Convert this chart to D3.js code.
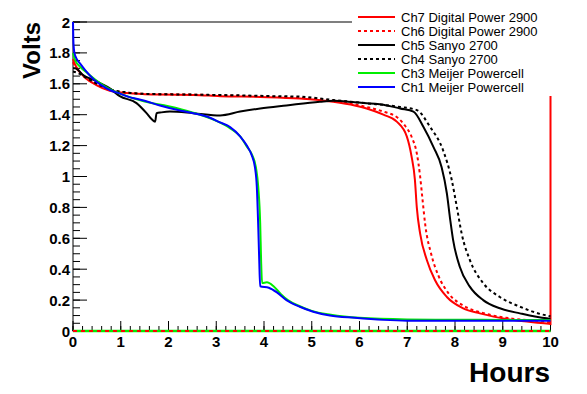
<!DOCTYPE html>
<html>
<head>
<meta charset="utf-8">
<script src="https://cdn.jsdelivr.net/npm/d3@7"></script>
<style>
  html, body { margin: 0; padding: 0; background: #fff; }
  svg { display: block; font-family: "Liberation Sans", Arial, Helvetica, sans-serif; }
</style>
</head>
<body>
<svg id="chart" width="587" height="394"></svg>
<script>
// ---------- data (hours, volts) ----------
const ch7 = [[0,1.76],[0.05,1.72],[0.22,1.65],[0.5,1.59],[0.77,1.555],[1.12,1.54],[1.5,1.533],[1.82,1.53],[2.52,1.528],[3.08,1.52],[3.92,1.515],[4.75,1.505],[5.45,1.484],[5.9,1.46],[6.15,1.44],[6.5,1.40],[6.78,1.355],[6.99,1.26],[7.09,1.13],[7.16,0.98],[7.20,0.80],[7.27,0.63],[7.41,0.46],[7.58,0.33],[7.83,0.22],[8.17,0.147],[8.52,0.114],[9.22,0.071],[9.92,0.048],[10,0.045],[10,2.0]];
const ch6 = [[0,1.74],[0.05,1.71],[0.22,1.65],[0.5,1.595],[0.77,1.56],[1.12,1.543],[1.5,1.535],[2.5,1.53],[3.5,1.522],[4.5,1.512],[5.45,1.49],[6.0,1.46],[6.5,1.42],[6.8,1.38],[6.95,1.33],[7.1,1.25],[7.2,1.15],[7.27,1.0],[7.32,0.85],[7.38,0.68],[7.5,0.50],[7.65,0.36],[7.85,0.25],[8.2,0.16],[8.6,0.115],[9.2,0.08],[9.9,0.06],[10,0.055]];
const ch5 = [[0,1.70],[0.04,1.70],[0.22,1.655],[0.43,1.625],[0.77,1.57],[0.98,1.52],[1.33,1.475],[1.54,1.41],[1.65,1.37],[1.72,1.355],[1.75,1.41],[1.85,1.415],[2.03,1.42],[2.52,1.41],[3.08,1.395],[3.5,1.42],[3.92,1.44],[4.47,1.46],[5.17,1.484],[5.45,1.49],[5.9,1.48],[6.5,1.465],[6.85,1.44],[7.13,1.42],[7.34,1.32],[7.55,1.19],[7.72,1.06],[7.83,0.89],[7.90,0.72],[7.96,0.59],[8.10,0.416],[8.31,0.287],[8.59,0.20],[8.94,0.147],[9.36,0.114],[9.92,0.082],[10,0.08]];
const ch4 = [[0,1.68],[0.1,1.67],[0.22,1.65],[0.5,1.60],[0.77,1.565],[1.1,1.545],[1.5,1.535],[2.5,1.53],[3.5,1.525],[4.2,1.52],[4.75,1.517],[5.45,1.495],[6.15,1.474],[6.85,1.45],[7.2,1.43],[7.48,1.32],[7.75,1.17],[7.93,0.98],[8.04,0.80],[8.14,0.63],[8.31,0.46],[8.59,0.31],[8.94,0.22],[9.36,0.157],[9.92,0.10],[10,0.095]];
const ch3 = [[0,1.80],[0.05,1.75],[0.15,1.71],[0.3,1.67],[0.5,1.62],[0.77,1.565],[1.0,1.535],[1.5,1.485],[2.0,1.455],[2.5,1.415],[3.0,1.36],[3.3,1.31],[3.5,1.26],[3.65,1.19],[3.75,1.14],[3.83,1.06],[3.88,0.93],[3.92,0.70],[3.94,0.45],[3.96,0.31],[4.06,0.315],[4.2,0.29],[4.35,0.24],[4.5,0.2],[4.75,0.16],[5.0,0.13],[5.4,0.105],[6.0,0.085],[7.0,0.075],[8,0.073],[9,0.072],[10,0.072]];
const ch1 = [[0,2.0],[0.01,1.86],[0.03,1.80],[0.08,1.76],[0.15,1.73],[0.25,1.69],[0.43,1.63],[0.6,1.59],[0.77,1.56],[1.0,1.535],[1.12,1.52],[1.5,1.49],[1.82,1.46],[2.2,1.43],[2.52,1.41],[2.87,1.38],[3.08,1.35],[3.29,1.32],[3.5,1.26],[3.64,1.20],[3.74,1.14],[3.81,1.06],[3.85,0.93],[3.88,0.67],[3.90,0.46],[3.92,0.29],[4.1,0.28],[4.27,0.25],[4.47,0.20],[4.75,0.157],[5.03,0.125],[5.38,0.10],[5.9,0.085],[6.5,0.072],[7,0.067],[8,0.066],[10,0.066]];
const zeroLine = [[0,0],[10,0]];

const seriesNames = ["Ch7 Digital Power 2900","Ch6 Digital Power 2900","Ch5 Sanyo 2700","Ch4 Sanyo 2700","Ch3 Meijer Powercell","Ch1 Meijer Powercell"];
const seriesColors = ["#ff0000","#ff0000","#000000","#000000","#00ee00","#0000ff"];
const seriesDash = [null,"3,3",null,"3,3",null,null];
const seriesData = [ch7, ch6, ch5, ch4, ch3, ch1];

const xTicks = [0,1,2,3,4,5,6,7,8,9,10];
const yTicks = [0,0.2,0.4,0.6,0.8,1,1.2,1.4,1.6,1.8,2];

// ---------- layout ----------
const svg = d3.select("#chart");
const L = 73, R = 550.5, T = 22, B = 331;
const x = d3.scaleLinear().domain([0,10]).range([L,R]);
const y = d3.scaleLinear().domain([0,2]).range([B,T]);

// frame
svg.append("rect").attr("x",L).attr("y",T).attr("width",R-L).attr("height",B-T)
  .attr("fill","none").attr("stroke","#000").attr("stroke-width",1);

// minor ticks
const xMinor = d3.range(0,10.0001,0.2);
svg.append("g").selectAll("line").data(xMinor).join("line")
  .attr("x1",d=>x(d)).attr("x2",d=>x(d)).attr("y1",B).attr("y2",B-5)
  .attr("stroke","#000");
svg.append("g").selectAll("line").data(xTicks).join("line")
  .attr("x1",d=>x(d)).attr("x2",d=>x(d)).attr("y1",B).attr("y2",B-10)
  .attr("stroke","#000");
const yMinor = d3.range(0,2.0001,0.05);
svg.append("g").selectAll("line").data(yMinor).join("line")
  .attr("x1",L).attr("x2",L+7).attr("y1",d=>y(d)).attr("y2",d=>y(d))
  .attr("stroke","#000");
svg.append("g").selectAll("line").data(yTicks).join("line")
  .attr("x1",L).attr("x2",L+14).attr("y1",d=>y(d)).attr("y2",d=>y(d))
  .attr("stroke","#000");

// tick labels
svg.append("g").selectAll("text").data(xTicks).join("text")
  .attr("x",d=>x(d)).attr("y",347).attr("text-anchor","middle")
  .attr("font-size",15).attr("font-weight","bold").text(d=>d);
svg.append("g").selectAll("text").data(yTicks).join("text")
  .attr("x",70).attr("y",d=>y(d)+5.5).attr("text-anchor","end")
  .attr("font-size",15).attr("font-weight","bold").text(d=>d3.format("")(d));

// axis titles
svg.append("text").attr("x",550).attr("y",382).attr("text-anchor","end")
  .attr("font-size",28).attr("font-weight","bold").text("Hours");
svg.append("text").attr("transform","translate(40,22) rotate(-90)").attr("text-anchor","end")
  .attr("font-size",24).attr("font-weight","bold").text("Volts");

// curves
const line = d3.line().x(d=>x(d[0])).y(d=>y(d[1])).curve(d3.curveMonotoneX);
const line2 = d3.line().x(d=>x(d[0])).y(d=>y(d[1]));

// zero lines
svg.append("path").attr("d",line2(zeroLine)).attr("fill","none")
  .attr("stroke","#00ee00").attr("stroke-width",2.5);
svg.append("path").attr("d",line2(zeroLine)).attr("fill","none")
  .attr("stroke","#ff0000").attr("stroke-width",2).attr("stroke-dasharray","4,4");

seriesData.forEach((data,i)=>{
  const last = data[data.length-1], prev = data[data.length-2];
  const gen = (last[0]===prev[0]) ? line2 : line;
  svg.append("path").attr("d", (last[0]===prev[0]) ? line(data.slice(0,-1)) + "L" + x(last[0]) + "," + y(last[1]) : line(data))
    .attr("fill","none").attr("stroke",seriesColors[i]).attr("stroke-width",2)
    .attr("stroke-dasharray",seriesDash[i]);
});

// legend
const lg = svg.append("g");
lg.append("rect").attr("x",352).attr("y",4).attr("width",235).attr("height",92).attr("fill","#fff");
seriesNames.forEach((name,i)=>{
  const yy = 17 + i*14;
  lg.append("line").attr("x1",358).attr("x2",395).attr("y1",yy).attr("y2",yy)
    .attr("stroke",seriesColors[i]).attr("stroke-width",2).attr("stroke-dasharray",seriesDash[i]);
  lg.append("text").attr("x",401).attr("y",yy+4.5).attr("font-size",13).text(name);
});
</script>
</body>
</html>
